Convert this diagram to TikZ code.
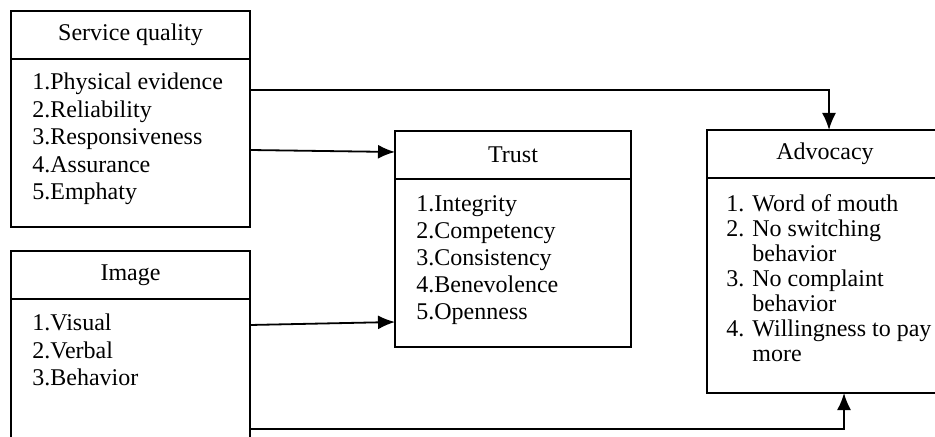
\documentclass[tikz,border=0pt]{standalone}
\usepackage{fontspec}
\setmainfont{Liberation Serif}
\usetikzlibrary{arrows.meta,positioning,calc}

\tikzset{
  hdr/.style={draw, line width=0.7pt, inner sep=0pt, outer sep=0pt, minimum height=24pt, font=\fontsize{12}{14}\selectfont},
  bdy/.style={draw, line width=0.7pt, inner sep=0pt, outer sep=0pt},
  lst/.style={anchor=base west, inner sep=0pt},
  arr/.style={line width=0.9pt, -{Latex[length=8.5pt,width=7pt]}},
}

\begin{document}
\begin{tikzpicture}[x=0.5pt,y=-0.5pt]
\useasboundingbox (0,0) rectangle (935,437);

\node[hdr, minimum width=119.5pt, anchor=north west] (sqHead) at (11,11) {Service quality};
\node[bdy, minimum width=119.5pt, minimum height=84pt, below=0pt of sqHead] (sqBody) {};
\node[lst, font=\fontsize{12}{13.75}\selectfont] (sqList) at (32,90) {\begin{tabular}[t]{@{}l@{}}
1.Physical evidence\\ 2.Reliability\\ 3.Responsiveness\\ 4.Assurance\\ 5.Emphaty
\end{tabular}};

\node[hdr, minimum width=119.5pt, anchor=north west] (imHead) at (11,251) {Image};
\node[bdy, minimum width=119.5pt, minimum height=74pt, below=0pt of imHead] (imBody) {};
\node[lst, font=\fontsize{12}{13.6}\selectfont] (imList) at (32,331) {\begin{tabular}[t]{@{}l@{}}
1.Visual\\ 2.Verbal\\ 3.Behavior
\end{tabular}};

\node[hdr, minimum width=118pt, anchor=north west] (trHead) at (395,131) {Trust};
\node[bdy, minimum width=118pt, minimum height=84pt, below=0pt of trHead] (trBody) {};
\node[lst, font=\fontsize{12}{13.4}\selectfont] (trList) at (416,212) {\begin{tabular}[t]{@{}l@{}}
1.Integrity\\ 2.Competency\\ 3.Consistency\\ 4.Benevolence\\ 5.Openness
\end{tabular}};

\node[hdr, minimum width=118pt, anchor=north west] (adHead) at (707,130) {Advocacy};
\node[bdy, minimum width=118pt, minimum height=107.5pt, below=0pt of adHead] (adBody) {};
\node[lst, font=\fontsize{12}{12.5}\selectfont] (adList) at (726,212) {\begin{tabular}[t]{@{}l@{\hspace{4pt}}l@{}}
1. & Word of mouth\\ 2. & No switching\\ & behavior\\ 3. & No complaint\\ & behavior\\ 4. & Willingness to pay\\ & more
\end{tabular}};

\draw[arr] ($(sqBody.north east)+(0,31)$) -| ($(adHead.north)+(4,0)$);
\draw[arr] ($(sqBody.north east)+(0,91)$) -- ($(trHead.west)+(0,-3)$);
\draw[arr] ($(imBody.north east)+(0,26)$) -- ($(trBody.south west)+(0,-25)$);
\draw[arr] ($(imBody.north east)+(0,130)$) -| ($(adBody.south)+(19,0)$);
\end{tikzpicture}
\end{document}
